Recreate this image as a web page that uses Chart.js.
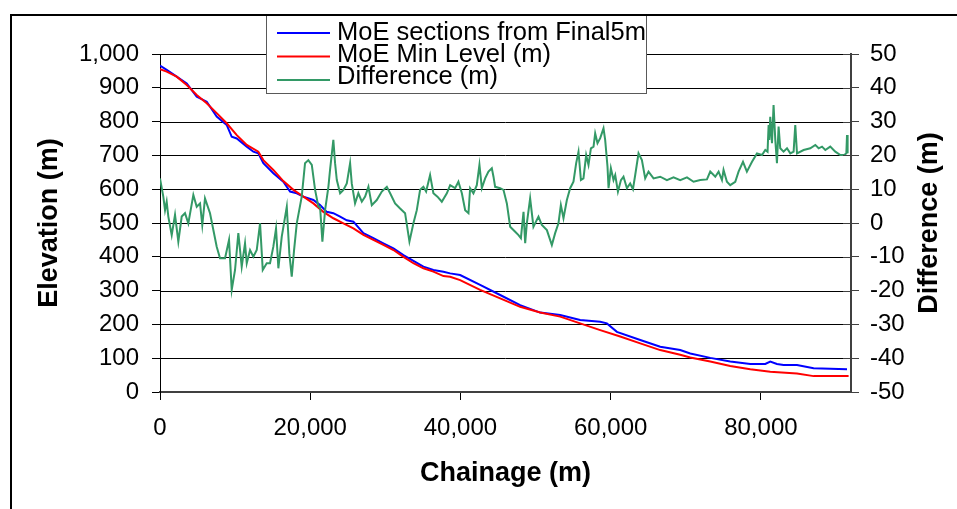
<!DOCTYPE html>
<html>
<head>
<meta charset="utf-8">
<title>MoE sections vs Min Level</title>
<script src="https://cdn.jsdelivr.net/npm/chart.js@4.4.1/dist/chart.umd.min.js"></script>
<style>
  html, body { margin: 0; padding: 0; background: #fff; }
  #wrap { width: 957px; height: 509px; }
</style>
</head>
<body>
<div id="wrap"><canvas id="profileChart" width="957" height="509"></canvas></div>
<script>
// Series labels
const seriesLabels = ['MoE sections from Final5m', 'MoE Min Level (m)', 'Difference (m)'];

// MoE sections from Final5m (left axis, m)
const blueChainage = [
    0, 890, 2220, 3560, 4890, 6220, 7550, 8880, 9550, 10220,
    11550, 12430, 13090, 13760, 15090, 16420, 17320, 18210, 19090, 20420,
    21310, 22200, 23080, 23980, 24870, 25750, 27080, 28410, 29740, 31080,
    32410, 33740, 35070, 36400, 37740, 38630, 39960, 42620, 45290, 47950,
    50620, 53280, 55940, 58610, 59500, 60830, 63940, 66600, 69260, 70600,
    73260, 75920, 78590, 80590, 81250, 82140, 83020, 84810, 87020, 91470
];
const blueElevation = [
    966, 953, 933, 913, 874, 859, 815, 790, 755, 750,
    726, 711, 706, 677, 647, 622, 593, 588, 578, 568,
    553, 533, 529, 519, 508, 504, 470, 455, 440, 425,
    405, 388, 371, 361, 356, 351, 346, 317, 287, 257,
    235, 228, 213, 208, 203, 178, 154, 134, 124, 114,
    101, 90, 83, 83, 90, 83, 80, 80, 70, 67
];

// MoE Min Level (left axis, m)
const redChainage = [
    0, 890, 2220, 3560, 4890, 6220, 7550, 8880, 10220, 11550,
    13090, 13760, 15090, 16420, 17760, 19090, 20420, 21750, 23080, 24420,
    25750, 27080, 28410, 29740, 31080, 32410, 33740, 35070, 36400, 37740,
    38630, 39960, 42620, 45290, 47950, 50620, 53280, 55940, 58610, 61270,
    63940, 66600, 69260, 70600, 73260, 75920, 78590, 81250, 84810, 87020,
    91680
];
const redElevation = [
    955, 948, 933, 908, 879, 854, 825, 795, 760, 731,
    711, 686, 657, 624, 598, 578, 558, 533, 514, 499,
    484, 465, 450, 435, 420, 400, 381, 366, 356, 343,
    341, 331, 302, 277, 252, 235, 223, 203, 183, 164,
    144, 124, 110, 102, 90, 77, 67, 60, 55, 47,
    47
];

// Difference (right axis, m)
const diffChainage = [
    0, 440, 670, 890, 1110, 1560, 2000, 2440, 2890, 3330,
    3770, 4440, 4890, 5330, 5630, 5990, 6660, 7550, 7990, 8660,
    9190, 9550, 9990, 10430, 10880, 11320, 11550, 11990, 12430, 12880,
    13320, 13680, 14210, 14650, 15090, 15450, 15760, 16210, 16880, 17220,
    17540, 17850, 18210, 18870, 19310, 19750, 20210, 20650, 21090, 21310,
    21620, 21980, 22420, 22640, 23080, 23310, 23540, 23980, 24420, 24870,
    25310, 25530, 25970, 26410, 26870, 27310, 27750, 28200, 28860, 29530,
    30200, 30640, 31300, 31970, 32630, 33210, 33740, 34190, 34630, 35070,
    35430, 35960, 36400, 36940, 37520, 38190, 38630, 39290, 39730, 40190,
    40630, 41070, 41290, 41730, 42180, 42530, 42850, 43290, 43730, 44180,
    44400, 44620, 45290, 45730, 46180, 46620, 47290, 47730, 48050, 48400,
    48620, 48840, 49280, 49720, 50390, 50840, 51510, 52170, 52610, 53050,
    53370, 53720, 54170, 54610, 55050, 55410, 55720, 56040, 56380, 56740,
    57050, 57370, 57720, 57940, 58250, 58610, 59050, 59270, 59580, 59720,
    60030, 60380, 60610, 60970, 61370, 61710, 62170, 62600, 62970, 63270,
    63710, 64160, 64600, 65040, 65710, 66600, 67490, 68370, 69260, 70160,
    71040, 71930, 72820, 73260, 73930, 74370, 74820, 75030, 75480, 75920,
    76590, 77030, 77620, 78140, 78820, 79480, 80150, 80590, 80890, 81030,
    81120, 81250, 81480, 81690, 81920, 82140, 82360, 82580, 83020, 83480,
    83920, 84360, 84580, 84810, 85690, 86580, 87250, 87690, 88140, 88580,
    89240, 89910, 90580, 91110, 91380, 91470, 91550
];
const diffValues = [
    13.2, 7.8, 3.8, 6.3, 1.9, -3.6, 2.4, -5.5, 1.9, 2.9,
    -0.1, 8.3, 4.8, 5.8, -0.6, 7.3, 2.9, -7.0, -10.4, -10.4,
    -5.0, -19.8, -13.9, -3.0, -12.9, -6.0, -11.9, -8.0, -10.0, -8.0,
    -0.1, -13.9, -11.9, -11.9, -7.0, -1.6, -13.4, -4.0, 4.8, -9.0,
    -15.9, -8.0, -0.1, 7.8, 17.7, 18.6, 17.2, 9.8, 4.8, 4.8,
    -5.5, 3.8, 10.7, 15.7, 24.6, 17.7, 12.7, 8.8, 9.8, 11.7,
    17.7, 11.7, 5.8, 8.8, 6.3, 7.8, 10.7, 5.3, 6.8, 9.3,
    10.7, 8.8, 5.8, 4.3, 2.9, -5.5, -0.1, 3.8, 9.8, 10.7,
    9.3, 14.2, 8.8, 7.8, 6.3, 8.8, 11.2, 10.3, 12.2, 8.8,
    3.8, 2.9, 10.3, 8.8, 11.2, 17.2, 10.3, 13.2, 15.2, 16.2,
    13.7, 10.7, 10.3, 9.8, 5.8, -1.1, -2.6, -3.6, -4.5, 3.3,
    -6.0, -0.1, 7.3, -1.1, 1.9, -0.6, -2.1, -6.5, -3.0, -0.1,
    5.3, 1.4, 6.8, 10.3, 12.2, 17.7, 21.1, 12.7, 13.2, 20.1,
    17.2, 22.1, 22.6, 26.5, 23.6, 25.1, 28.0, 24.6, 16.7, 10.3,
    16.2, 12.7, 14.2, 9.3, 12.7, 13.7, 10.3, 11.7, 10.0, 14.2,
    20.6, 18.6, 13.2, 15.2, 13.2, 13.7, 12.7, 13.5, 12.7, 13.5,
    12.2, 12.7, 12.9, 15.2, 13.7, 15.2, 12.7, 15.7, 12.2, 11.2,
    12.2, 15.2, 18.1, 15.2, 18.1, 20.6, 20.1, 21.6, 21.1, 29.0,
    24.6, 31.4, 23.6, 34.9, 24.6, 17.7, 28.5, 22.1, 21.1, 22.1,
    20.6, 21.1, 29.0, 20.6, 21.6, 22.1, 23.1, 22.1, 22.6, 21.6,
    22.6, 21.1, 20.1, 20.1, 20.6, 26.0, 20.6
];

// Axis ticks
const chainageTicks = [0, 20000, 40000, 60000, 80000];

const FONT = '"Liberation Sans", Arial, sans-serif';

function toPoints(xs, ys) {
    return xs.map((x, i) => ({ x: x, y: ys[i] }));
}

function fmt(v) {
    return Number(v).toLocaleString('en-US');
}

// Horizontal grid, legend, right-hand title, inner ticks on right axis and the outer frame
const extrasPlugin = {
    id: 'extras',
    beforeDatasetsDraw(chart) {
        const ctx = chart.ctx;
        const yL = chart.scales.y;
        const area = chart.chartArea;
        ctx.save();
        ctx.strokeStyle = '#000';
        ctx.lineWidth = 1;
        yL.ticks.forEach(t => {
            if (t.value === 0) return;
            const y = Math.round(yL.getPixelForValue(t.value)) + 0.5;
            ctx.beginPath();
            ctx.moveTo(area.left, y);
            ctx.lineTo(area.right, y);
            ctx.stroke();
        });
        ctx.restore();
    },
    afterDraw(chart) {
        const ctx = chart.ctx;
        const yR = chart.scales.yDiff;
        const area = chart.chartArea;

        ctx.save();
        ctx.strokeStyle = '#404040';
        ctx.lineWidth = 1;
        yR.ticks.forEach(t => {
            const y = Math.round(yR.getPixelForValue(t.value)) + 0.5;
            ctx.beginPath();
            ctx.moveTo(yR.left - 8, y);
            ctx.lineTo(yR.left, y);
            ctx.stroke();
        });

        // right axis title reads bottom to top
        ctx.translate(930, (area.top + area.bottom) / 2);
        ctx.rotate(-Math.PI / 2);
        ctx.font = 'bold 27px ' + FONT;
        ctx.fillStyle = '#000';
        ctx.textAlign = 'center';
        ctx.textBaseline = 'middle';
        ctx.fillText('Difference (m)', 0, 0);
        ctx.restore();

        // legend box
        ctx.save();
        ctx.fillStyle = '#fff';
        ctx.fillRect(266, 14, 381, 80);
        ctx.strokeStyle = '#595959';
        ctx.lineWidth = 1;
        ctx.strokeRect(266.5, 14.5, 380, 79);
        ctx.font = '25.5px ' + FONT;
        ctx.textAlign = 'left';
        ctx.textBaseline = 'alphabetic';
        chart.data.datasets.forEach((ds, i) => {
            const ly = 33 + i * 23.5;
            ctx.strokeStyle = ds.borderColor;
            ctx.lineWidth = 2;
            ctx.beginPath();
            ctx.moveTo(277, ly);
            ctx.lineTo(330, ly);
            ctx.stroke();
            ctx.fillStyle = '#000';
            ctx.fillText(ds.label, 337, 39.5 + i * 22.2);
        });
        ctx.restore();

        // outer frame
        ctx.save();
        ctx.strokeStyle = '#000';
        ctx.lineWidth = 2;
        ctx.strokeRect(11, 15, 1200, 800);
        ctx.restore();
    }
};

const ctx = document.getElementById('profileChart').getContext('2d');
new Chart(ctx, {
    type: 'line',
    data: {
        datasets: [
            {
                label: seriesLabels[0],
                data: toPoints(blueChainage, blueElevation),
                borderColor: '#0000ff',
                borderWidth: 2,
                yAxisID: 'y',
                order: 2
            },
            {
                label: seriesLabels[1],
                data: toPoints(redChainage, redElevation),
                borderColor: '#ff0000',
                borderWidth: 2,
                yAxisID: 'y',
                order: 1
            },
            {
                label: seriesLabels[2],
                data: toPoints(diffChainage, diffValues),
                borderColor: '#339966',
                borderWidth: 2,
                yAxisID: 'yDiff',
                order: 0
            }
        ]
    },
    options: {
        responsive: false,
        animation: false,
        devicePixelRatio: 1,
        layout: { padding: { top: 54, left: 0, right: 0, bottom: 0 } },
        elements: {
            point: { radius: 0 },
            line: { tension: 0, fill: false }
        },
        plugins: {
            legend: { display: false },
            tooltip: { enabled: false }
        },
        scales: {
            x: {
                type: 'linear',
                min: 0,
                max: 92000,
                afterBuildTicks: scale => {
                    scale.ticks = chainageTicks.map(v => ({ value: v }));
                },
                afterFit: scale => { scale.height = 117; },
                grid: { drawOnChartArea: false, drawTicks: true, tickLength: 8, color: '#000' },
                border: { display: true, color: '#404040', width: 2 },
                ticks: {
                    color: '#000',
                    font: { family: FONT, size: 24 },
                    padding: 14,
                    maxRotation: 0,
                    callback: v => fmt(v)
                },
                title: {
                    display: true,
                    text: 'Chainage (m)',
                    color: '#000',
                    font: { family: FONT, size: 27, weight: 'bold' },
                    padding: { top: 0, bottom: 19 }
                }
            },
            y: {
                position: 'left',
                min: 0,
                max: 1000,
                ticks: {
                    stepSize: 100,
                    color: '#000',
                    font: { family: FONT, size: 24 },
                    padding: 13,
                    callback: v => fmt(v)
                },
                afterFit: scale => { scale.width = 160; },
                grid: { drawOnChartArea: false, color: '#000', lineWidth: 1, tickLength: 8 },
                border: { display: true, color: '#000', width: 1 },
                title: {
                    display: true,
                    text: 'Elevation (m)',
                    color: '#000',
                    font: { family: FONT, size: 27, weight: 'bold' },
                    padding: { top: 33, bottom: 0 }
                }
            },
            yDiff: {
                position: 'right',
                min: -50,
                max: 50,
                ticks: {
                    stepSize: 10,
                    color: '#000',
                    font: { family: FONT, size: 24 },
                    padding: 11
                },
                afterFit: scale => { scale.width = 106; },
                grid: { drawOnChartArea: false, color: '#404040', tickLength: 8 },
                border: { display: true, color: '#404040', width: 2 }
            }
        }
    },
    plugins: [extrasPlugin]
});
</script>
</body>
</html>
